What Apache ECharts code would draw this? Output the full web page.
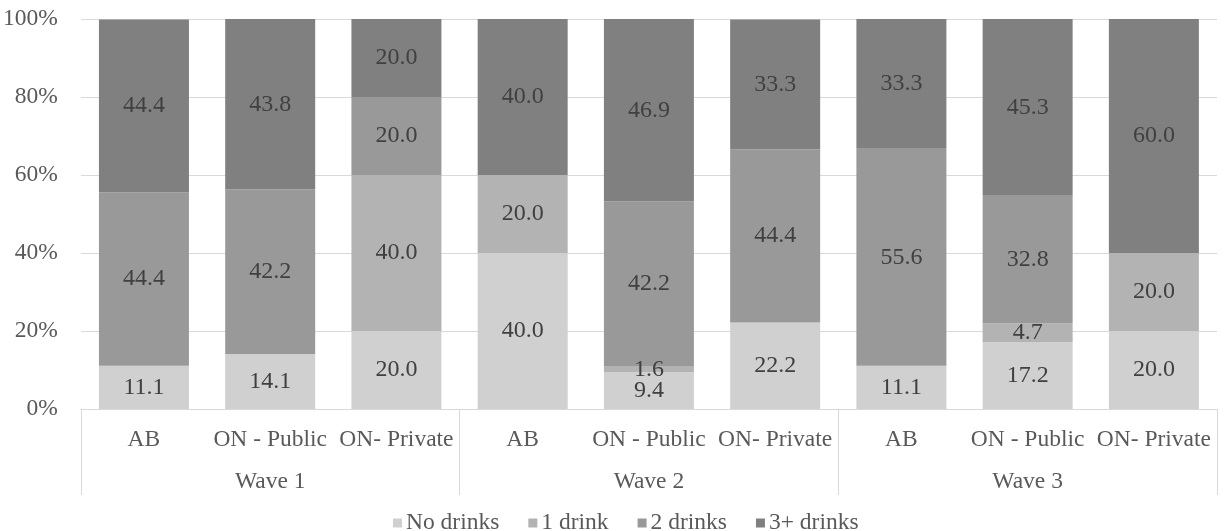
<!DOCTYPE html>
<html>
<head>
<meta charset="utf-8">
<script src="https://cdn.jsdelivr.net/npm/echarts@6/dist/echarts.min.js"></script>
<style>
  html, body { margin: 0; padding: 0; background: #fff; }
  #chart { width: 1225px; height: 531px; }
</style>
</head>
<body>
<div id="chart"></div>
<script>
// Categories: three venues within each of three survey waves
const venues = ['AB', 'ON - Public', 'ON- Private', 'AB', 'ON - Public', 'ON- Private', 'AB', 'ON - Public', 'ON- Private'];
const waves = ['Wave 1', 'Wave 2', 'Wave 3'];
const yTicks = [0, 20, 40, 60, 80, 100];

// Share of respondents (%) per drinking level
const noDrinks    = [11.1, 14.1, 20.0, 40.0, 9.4, 22.2, 11.1, 17.2, 20.0];
const oneDrink    = [0, 0, 40.0, 20.0, 1.6, 0, 0, 4.7, 20.0];
const twoDrinks   = [44.4, 42.2, 20.0, 0, 42.2, 44.4, 55.6, 32.8, 0];
const threePlus   = [44.4, 43.8, 20.0, 40.0, 46.9, 33.3, 33.3, 45.3, 60.0];

const seriesNames = ['No drinks', '1 drink', '2 drinks', '3+ drinks'];
const seriesData = [noDrinks, oneDrink, twoDrinks, threePlus];
const colors = ['#d0d0d0', '#b3b3b3', '#999999', '#808080'];

const FONT = "'Liberation Serif', 'Times New Roman', serif";
const chart = echarts.init(document.getElementById('chart'), null, { renderer: 'canvas' });

chart.setOption({
  animation: false,
  textStyle: { fontFamily: FONT },
  color: colors,
  grid: { left: 80, right: 8, top: 19, bottom: 122, containLabel: false },
  legend: {
    left: 388,
    top: 506,
    itemWidth: 9,
    itemHeight: 9,
    itemGap: 29,
    icon: 'rect',
    textStyle: { fontFamily: FONT, fontSize: 23.5, color: '#595959', padding: [0, 0, 0, -1] },
    data: seriesNames
  },
  xAxis: [
    {
      type: 'category',
      data: venues,
      position: 'bottom',
      axisLine: { show: true, lineStyle: { color: '#d9d9d9', width: 1 } },
      axisTick: { show: false },
      axisLabel: { margin: 19, fontFamily: FONT, fontSize: 23.5, color: '#595959', interval: 0 }
    },
    {
      type: 'category',
      data: waves,
      position: 'bottom',
      axisLine: { show: false },
      axisTick: { show: true, length: 86, lineStyle: { color: '#d9d9d9', width: 1 } },
      axisLabel: { margin: 61, fontFamily: FONT, fontSize: 23.5, color: '#595959' }
    }
  ],
  yAxis: {
    type: 'value',
    min: yTicks[0],
    max: yTicks[yTicks.length - 1],
    interval: 20,
    axisLine: { show: false },
    axisTick: { show: false },
    splitLine: { lineStyle: { color: '#d9d9d9', width: 1 } },
    axisLabel: { formatter: '{value}%', margin: 23, fontFamily: FONT, fontSize: 23.5, color: '#595959' }
  },
  series: seriesNames.map((name, i) => ({
    name: name,
    type: 'bar',
    stack: 'total',
    xAxisIndex: 0,
    barWidth: 90,
    data: seriesData[i],
    itemStyle: { color: colors[i] },
    labelLayout: { moveOverlap: 'shiftY' },
    label: {
      show: true,
      position: 'inside',
      fontFamily: FONT,
      fontSize: 24,
      color: '#404040',
      formatter: p => (p.value > 0 ? p.value.toFixed(1) : '')
    }
  }))
});
</script>
</body>
</html>
